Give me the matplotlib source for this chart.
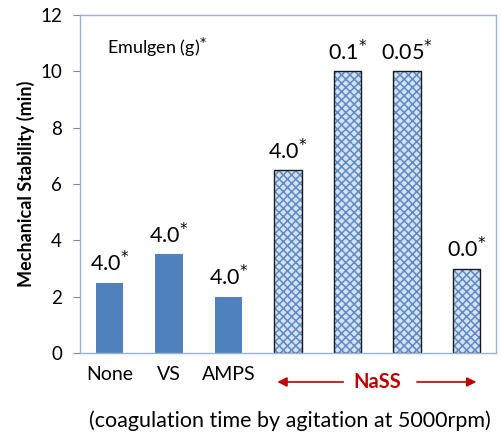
import matplotlib
matplotlib.use("Agg")
import matplotlib.pyplot as plt
from matplotlib.transforms import blended_transform_factory

categories = ["None", "VS", "AMPS", "NaSS-1", "NaSS-2", "NaSS-3", "NaSS-4"]
tick_labels = ["None", "VS", "AMPS", "", "", "", ""]
stability = [2.5, 3.5, 2.0, 6.5, 10.0, 10.0, 3.0]
emulgen = ["4.0", "4.0", "4.0", "4.0", "0.1", "0.05", "0.0"]
hatched = [False, False, False, True, True, True, True]

BLUE = "#4f81bd"
FRAME = "#95b3d7"
RED = "#c00000"

plt.rcParams.update({"font.family": ["Lato", "DejaVu Sans"], "hatch.linewidth": 1.1})

fig = plt.figure(figsize=(5.02, 4.38), dpi=100)
ax = fig.add_axes([80 / 502, 1 - 353 / 438, 416 / 502, 338 / 438])

x = list(range(len(categories)))
for xi, v, h, lab in zip(x, stability, hatched, emulgen):
    if h:
        ax.bar(xi, v, width=0.46, color="#d5e1f0", edgecolor="#5b8ac6", hatch="xxxx", lw=0)
        ax.bar(xi, v, width=0.46, color="none", edgecolor="#1a1a1a", lw=1.0)
    else:
        ax.bar(xi, v, width=0.46, color=BLUE, lw=0)
    ax.text(xi, v + 0.25, lab + "$^{*}$", ha="center", va="bottom", fontsize=15.5)

ax.set_xlim(-0.5, len(categories) - 0.5)
ax.set_ylim(0, 12)
ax.set_yticks(range(0, 13, 2))
ax.set_xticks(x)
ax.set_xticklabels(tick_labels, fontsize=14)
ax.tick_params(axis="x", length=0, pad=9)
ax.tick_params(axis="y", labelsize=13.5, length=5, color="#888888", pad=8)
for s in ax.spines.values():
    s.set_color(FRAME)
    s.set_linewidth(1.0)

ax.set_ylabel("Mechanical Stability (min)", fontsize=13, fontweight="bold", labelpad=4)
ax.text(0.065, 0.905, "Emulgen (g)$^{*}$", transform=ax.transAxes, fontsize=13,
        ha="left", va="center")

# NaSS group label with arrows
tr = blended_transform_factory(ax.transData, fig.transFigure)
ya = 1 - 382 / 438
ax.text(4.5, ya, "NaSS", transform=tr, ha="center", va="center", color=RED,
        fontsize=14.5, fontweight="bold")
for tail, tip in ((3.93, 2.82), (5.17, 6.17)):
    ax.annotate("", xy=(tip, ya), xytext=(tail, ya), xycoords=tr, textcoords=tr,
                arrowprops=dict(arrowstyle="-|>", color=RED, lw=1.2,
                                mutation_scale=14, shrinkA=0, shrinkB=0),
                annotation_clip=False)

fig.text(0.578, 1 - 421 / 438, "(coagulation time by agitation at 5000rpm)",
         ha="center", va="center", fontsize=15.5)

fig.savefig("out.png", dpi=100)
